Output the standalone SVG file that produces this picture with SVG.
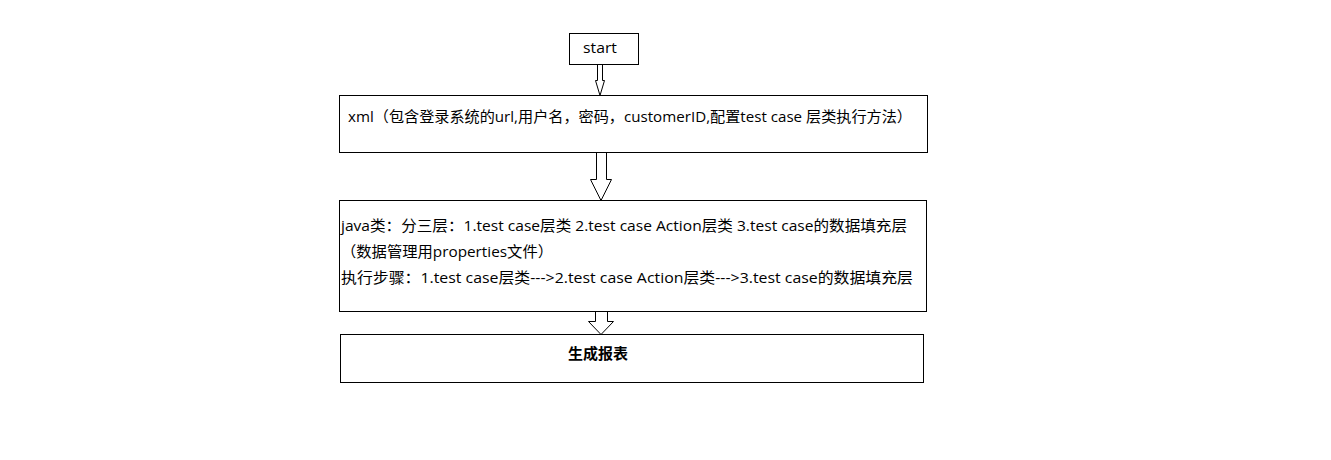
<svg xmlns="http://www.w3.org/2000/svg" width="1331" height="460" viewBox="0 0 1331 460">
<style>
.box{fill:#fff;stroke:#000;stroke-width:1}
.arr{fill:#fff;stroke:#000;stroke-width:1}
text{font-family:"Open Sans","Noto Sans CJK SC",sans-serif;font-size:15px;fill:#000}
.b{font-weight:bold}
</style>
<rect width="1331" height="460" fill="#fff"/>
<g id="connectors">
<polygon class="arr" points="597.5,64.5 602.5,64.5 602.5,80.5 604.5,80.5 600,95.5 595.5,80.5 597.5,80.5"/>
<polygon class="arr" points="596.5,152.5 606.5,152.5 606.5,179.5 611.5,179.5 601,200.5 590.5,179.5 596.5,179.5"/>
<polygon class="arr" points="595.5,311.5 607.5,311.5 607.5,321.5 613.5,321.5 601,334.5 588.5,321.5 595.5,321.5"/>
</g>
<g id="start">
<rect class="box" x="569.5" y="33.5" width="69" height="31"/>
<text x="583" y="53" textLength="34" lengthAdjust="spacingAndGlyphs">start</text>
</g>
<g id="xml">
<rect class="box" x="339.5" y="95.5" width="588" height="57"/>
<text x="348" y="122" textLength="564" lengthAdjust="spacingAndGlyphs">xml（包含登录系统的url,用户名，密码，customerID,配置test case 层类执行方法）</text>
</g>
<g id="java">
<rect class="box" x="339.5" y="200.5" width="587" height="111"/>
<text x="341" y="231" textLength="566" lengthAdjust="spacingAndGlyphs">java类：分三层：1.test case层类 2.test case Action层类 3.test case的数据填充层</text>
<text x="341" y="257" textLength="212" lengthAdjust="spacingAndGlyphs">（数据管理用properties文件）</text>
<text x="341" y="283" textLength="572" lengthAdjust="spacingAndGlyphs">执行步骤：1.test case层类---&gt;2.test case Action层类---&gt;3.test case的数据填充层</text>
</g>
<g id="report">
<rect class="box" x="340.5" y="334.5" width="583" height="48"/>
<text class="b" x="568" y="359" textLength="60" lengthAdjust="spacingAndGlyphs">生成报表</text>
</g>
</svg>
